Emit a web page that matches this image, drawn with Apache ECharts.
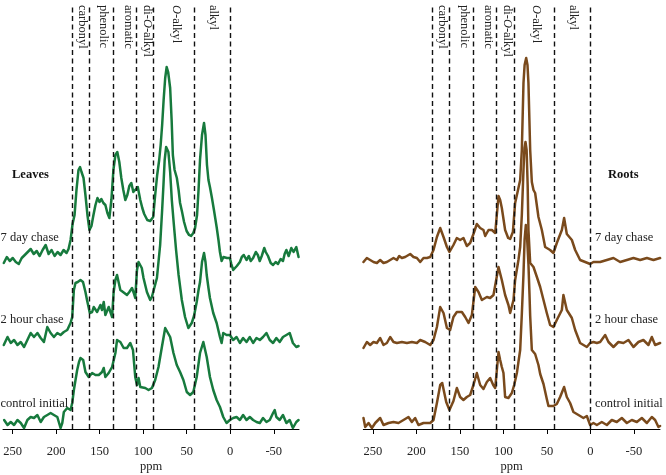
<!DOCTYPE html>
<html><head><meta charset="utf-8">
<script src="https://cdn.jsdelivr.net/npm/echarts@6/dist/echarts.min.js"></script>
<style>html,body{margin:0;padding:0;background:#fff}#c{width:666px;height:475px}</style>
</head><body><div id="c"></div>
<script>
// ---- data (ppm, relative intensity) ----
const ppmTicks = [250, 200, 150, 100, 50, 0, -50];
const regionBounds = [182, 162, 134.5, 108, 88, 41, 0];
const regionNames = ['carbonyl', 'phenolic', 'aromatic', 'di-O-alkyl', 'O-alkyl', 'alkyl'];
const regionLabelPpm = [170, 145.5, 117.5, 95, 62.5, 20];
const spectrumNames = ['control initial', '2 hour chase', '7 day chase'];
const leafOffsets = [6, 87, 169];
const rootOffsets = [5, 86, 169];

const leafControl = [[259.7,3],[255.8,-2],[252.1,1],[248.3,-2],[244.4,3],[240.6,0],[236.8,-5],[233,3],[229.2,6],[225.4,5],[221.5,8],[217.7,1],[214,6],[210.1,8],[206.3,10],[202.5,8],[198.6,6],[194.9,-5],[192.9,0],[191.1,11],[187.2,15],[183.4,13],[181.5,20],[179.6,33],[175.8,53],[173.7,61],[172,65],[168.9,63],[166.3,51],[162.5,46],[158.6,50],[154.8,48],[151,48],[147.2,51],[145.3,55],[143.4,46],[139.6,50],[135.7,56],[131.9,70],[130,83],[126.2,81],[122.4,75],[118.6,75],[114.8,80],[111.7,73],[109.1,46],[107.1,38],[105.3,45],[103.3,36],[97.6,35],[93.8,33],[89.9,35],[86.2,43],[82.4,56],[78.5,76],[74.7,95],[72.8,96],[69,86],[65.2,70],[61.4,58],[57.6,51],[53.8,43],[49.9,31],[46.1,28],[42.4,31],[38.5,46],[34.7,70],[30.9,81],[27,66],[23.3,46],[19.5,33],[15.6,23],[11.8,16],[8,6],[4.2,0],[0.4,3],[-3.4,5],[-7.3,6],[-11.1,3],[-14.8,8],[-18.7,3],[-22.5,6],[-26.3,3],[-30.2,1],[-34,0],[-37.7,5],[-41.6,1],[-45.4,3],[-49.2,10],[-51.1,13],[-53,6],[-56.8,3],[-60.6,8],[-64.5,0],[-68.3,3],[-72,-5],[-75.9,1],[-78.5,3]];
const leaf2h = [[260.1,-3],[255.8,5],[252.1,-1],[248.3,2],[244.4,-3],[240.6,0],[236.8,-5],[233,2],[229.2,9],[225.4,5],[221.5,9],[217.7,4],[214,0],[210.1,15],[206.3,9],[202.5,5],[198.6,9],[194.9,7],[191.1,10],[187.2,12],[183.4,19],[181.5,25],[179.6,52],[177.7,59],[175.1,60],[172,62],[169.1,60],[166.3,50],[164.5,42],[162.5,34],[161.3,29],[158.6,30],[156.8,35],[152.9,30],[149.1,37],[147.2,32],[145.3,40],[143.4,27],[139.6,35],[135.7,25],[133.9,50],[131.9,62],[130,67],[128.2,66],[126.2,52],[124.3,50],[121.6,49],[118.6,47],[115.9,50],[112.8,54],[110.8,49],[109.1,44],[107.1,72],[105.3,80],[103.3,81],[101.6,74],[99.6,64],[95.7,50],[91.9,42],[90,45],[88.1,45],[84.2,64],[80.5,97],[78.2,132],[76.7,157],[75.3,182],[73.6,195],[72.1,195],[71,190],[69,170],[67.1,142],[65,120],[62.2,92],[59.3,67],[55.6,42],[51.9,25],[48.1,14],[44.2,19],[41.6,26],[38.5,40],[36.4,52],[34.7,60],[32.4,80],[30.1,89],[28.4,80],[27,67],[25,54],[23.3,44],[19.5,29],[15.6,19],[11.8,5],[9.9,-1],[8,9],[4.2,7],[0.4,7],[-3.4,2],[-7.3,5],[-11.1,-1],[-14.8,4],[-18.7,0],[-22.5,5],[-26.3,-1],[-30.2,4],[-34,2],[-37.7,5],[-41.6,9],[-45.4,2],[-49.2,-1],[-53,4],[-56.8,0],[-60.6,5],[-64.5,7],[-68.3,9],[-72,-1],[-75.9,-5],[-78.5,-4]];
const leaf7d = [[260.1,-3],[256.6,3],[253.2,-1],[249.8,2],[246.3,-2],[242.9,-4],[239.5,2],[236,5],[232.6,8],[229.2,11],[225.7,6],[222.3,9],[218.9,4],[215.5,10],[212,15],[208.6,6],[205.2,10],[201.7,4],[198.3,8],[194.9,5],[191.4,10],[188,7],[185.7,11],[183.4,20],[181.1,36],[178.8,45],[176.6,70],[174.3,90],[172.5,93],[170.8,88],[168.5,82],[166.3,65],[164,45],[161.7,30],[159.4,34],[157.1,45],[154.8,55],[152.5,62],[150.2,58],[148,61],[145.7,57],[143.4,55],[141.1,47],[138.8,42],[136.5,60],[134.2,90],[131.9,105],[129.7,108],[127.4,98],[125.1,82],[122.8,70],[120.5,60],[118.2,65],[115.9,74],[113.6,77],[111.3,68],[109.1,70],[106.2,73],[103.3,60],[101,52],[98.8,46],[95.3,40],[91.9,39],[88.5,43],[86.2,65],[83.9,85],[81.6,100],[79.9,115],[78.2,135],[76.5,160],[74.7,182],[73,193],[71.3,188],[69,172],[67.3,140],[65.9,105],[63.9,90],[61.3,82],[59.3,70],[57.6,57],[55.3,48],[53,38],[50.1,29],[47.3,25],[45,24],[42.4,27],[40.4,32],[38.1,45],[36.4,70],[34.7,100],[32.4,125],[30.1,137],[28.4,125],[26.7,95],[25,80],[23.3,73],[21,62],[18.7,50],[15.6,33],[13.5,20],[11.8,8],[9.9,-1],[7.8,3],[6.1,4],[3.8,2],[0.4,2],[-1.3,-4],[-3.4,-10],[-5.3,-8],[-7.6,-6],[-11.1,-2],[-13.3,3],[-15.6,5],[-18.7,0],[-21.4,4],[-23.6,-1],[-26.3,2],[-29.4,8],[-31.7,5],[-33.9,-1],[-36.2,4],[-39.1,12],[-40.8,8],[-43.4,4],[-46.5,-3],[-49.2,-5],[-52.2,-2],[-54.9,-4],[-57.9,1],[-60.6,-1],[-62.5,6],[-64.5,10],[-67.1,4],[-70.2,12],[-72.8,8],[-75.9,13],[-78.5,3]];

const rootControl = [[260.8,6],[258.8,-3],[255,1],[251.1,-4],[247.3,1],[241.6,6],[237.8,-1],[232,1],[226.3,2],[220.6,1],[214.8,4],[209.1,7],[205.2,2],[201.4,6],[197.6,-1],[191.8,1],[184.1,1],[180.3,4],[176.4,21],[172.6,39],[170.3,41],[165.7,22],[162,14],[157.4,23],[153.5,36],[149.7,27],[145.9,24],[142,27],[138.2,29],[134.4,39],[130.5,51],[126.7,39],[122.9,35],[119,42],[115.2,46],[111.7,39],[109.4,36],[105.6,72],[103.7,64],[101.8,57],[99.9,51],[98,27],[94.2,26],[90.3,31],[87.6,39],[84.5,51],[82.7,62],[80.7,74],[78.8,110],[76.9,150],[75.6,185],[74.2,199],[72.7,185],[71.2,160],[70,130],[69.2,108],[67.3,74],[65.4,72],[63.5,70],[59.7,59],[57.7,50],[53.9,40],[52,38],[50.1,25],[48.2,18],[46.3,17],[42.5,18],[38.6,20],[34.8,27],[30.2,37],[27.1,27],[23.3,21],[19.5,12],[13.7,9],[8,6],[4.1,8],[0.3,-1],[-3.5,1],[-7.4,-1],[-13.1,2],[-18.9,-1],[-24.6,4],[-30.3,2],[-36.1,6],[-41.9,1],[-47.6,4],[-53.4,2],[-59.1,6],[-64.9,1],[-70.6,7],[-74.4,4],[-78.2,-3],[-80.1,-2]];
const root2h = [[260.8,-5],[256.9,1],[253.1,-2],[249.3,1],[245.4,0],[241.6,5],[237.8,-2],[233.9,0],[230.1,6],[226.3,1],[222.4,0],[216.7,1],[210.9,0],[205.2,1],[199.4,0],[195.6,3],[189.9,1],[184.1,-2],[180.3,3],[176.4,16],[172.6,36],[168.8,30],[164.9,15],[161.2,13],[157.4,26],[153.5,31],[147.7,31],[143.9,26],[140.1,20],[136.2,28],[132.4,56],[128.6,51],[124.7,43],[119,46],[115.2,45],[111.4,48],[105.6,76],[101.8,63],[98,48],[94.2,38],[92.2,30],[88.4,43],[86.5,63],[82.7,83],[80.7,96],[78.8,128],[76.9,173],[75.8,195],[74.6,201],[73.3,193],[72.1,158],[71.2,113],[69.2,80],[65.4,76],[61.5,66],[57.7,56],[53.9,43],[50.1,30],[46.3,18],[42.5,16],[38.6,23],[32.8,33],[31,48],[27.1,33],[21.3,25],[17.5,13],[11.8,0],[4.1,-4],[0.3,0],[-3.5,1],[-7.4,0],[-11.2,1],[-17,8],[-20.8,1],[-26.5,-4],[-32.2,1],[-38,0],[-43.7,3],[-49.5,-4],[-55.2,1],[-60.9,3],[-66.7,-2],[-70.6,6],[-74.4,-2],[-80.1,0]];
const root7d = [[260.8,-2],[256.9,2],[253.1,0],[249.3,-2],[245.4,-3],[241.6,0],[237.8,-3],[233.9,-2],[230.1,0],[226.3,2],[222.4,0],[219.7,4],[216.7,2],[212.9,3],[207.1,6],[203.3,3],[199.4,2],[195.6,-2],[191.8,2],[187.9,2],[184.1,3],[180.3,10],[176.4,23],[172.6,32],[168.8,23],[164.9,13],[162,8],[157.4,15],[153.5,22],[149.7,20],[145.9,22],[142,14],[138.2,17],[134.4,26],[130.5,36],[126.7,32],[122.9,30],[120.9,24],[117.1,30],[113.2,30],[109.4,27],[105.6,64],[103.7,60],[101.8,52],[98,30],[94.5,22],[92.2,21],[89.1,28],[86.5,57],[82.7,72],[80.7,80],[78.8,110],[76.9,177],[75.6,195],[73.8,202],[72.3,195],[71.2,177],[69.2,110],[67.3,78],[65.4,70],[63.5,67],[59.7,43],[55.8,30],[52,13],[46.3,10],[42.5,7],[38.6,17],[32.8,30],[30.2,42],[27.1,26],[21.3,20],[17.5,10],[11.8,0],[6,-2],[0.3,-4],[-3.5,-2],[-11.2,-2],[-18.9,0],[-26.5,2],[-34.2,-2],[-41.9,0],[-49.5,2],[-57.2,0],[-64.9,2],[-72.5,0],[-80.1,2]];

const leafColor = '#177a3d';
const rootColor = '#7a4a1c';
const FONT = '"Liberation Serif", "Times New Roman", serif';

const chart = echarts.init(document.getElementById('c'), null, {renderer: 'canvas'});

function xAx(gi, min) {
  return {
    type: 'value', gridIndex: gi, min: min, max: 261, inverse: true,
    name: 'ppm', nameLocation: 'middle', nameGap: 31.5, nameMoveOverlap: false,
    nameTextStyle: {fontFamily: FONT, fontSize: 12.5, color: '#222'},
    axisLine: {show: true, onZero: false, lineStyle: {color: '#000', width: 1}},
    axisTick: {show: true, length: 5, inside: false, customValues: ppmTicks, lineStyle: {color: '#000'}},
    axisLabel: {show: true, customValues: ppmTicks, margin: 16, fontFamily: FONT, fontSize: 12.5, color: '#222'},
    splitLine: {show: false}
  };
}
function yAx(gi) {
  return {type: 'value', gridIndex: gi, min: 0, max: 424, show: false};
}
function spec(gi, pts, off, color, name) {
  return {
    type: 'line', name: name, xAxisIndex: gi, yAxisIndex: gi, showSymbol: false, symbol: 'none',
    data: pts.map(p => [p[0], p[1] + off]), z: 2, silent: true,
    lineStyle: {color: color, width: 2.5, join: 'round', cap: 'round'}
  };
}
function bounds(gi) {
  return {
    type: 'line', xAxisIndex: gi, yAxisIndex: gi, data: [], z: 5, silent: true,
    markLine: {
      symbol: 'none', silent: true, animation: false,
      label: {show: false},
      lineStyle: {color: '#111', width: 1.4, type: [5, 3.5]},
      data: regionBounds.map(v => ({xAxis: v}))
    }
  };
}

const leafSets = [leafControl, leaf2h, leaf7d];
const rootSets = [rootControl, root2h, root7d];
const series = [];
leafSets.forEach((s, i) => series.push(spec(0, s, leafOffsets[i], leafColor, 'Leaves ' + spectrumNames[i])));
rootSets.forEach((s, i) => series.push(spec(1, s, rootOffsets[i], rootColor, 'Roots ' + spectrumNames[i])));
series.push(bounds(0), bounds(1));

chart.setOption({
  animation: false,
  backgroundColor: '#fff',
  grid: [
    {left: 3, top: 5, width: 296, height: 424, containLabel: false, outerBoundsMode: 'none'},
    {left: 363.3, top: 5, width: 296.7, height: 424, containLabel: false, outerBoundsMode: 'none'}
  ],
  xAxis: [xAx(0, -79), xAx(1, -80)],
  yAxis: [yAx(0), yAx(1)],
  series: series
});

// text annotations
const g = [];
function txt(x, y, text, opts) {
  g.push({
    type: 'text', x: x, y: y, silent: true,
    style: Object.assign({text: text, fontFamily: FONT, fontSize: 12.5, fill: '#222',
      align: 'left', verticalAlign: 'middle', textAlign: 'left', textVerticalAlign: 'middle'}, opts || {})
  });
}
const curveLabelY = [404, 320, 238];
spectrumNames.forEach((n, i) => { txt(0.5, curveLabelY[i], n); txt(595, curveLabelY[i], n); });
txt(12, 175, 'Leaves', {fontWeight: 'bold', fill: '#111'});
txt(608, 175, 'Roots', {fontWeight: 'bold', fill: '#111'});

const rich = {
  n: {fontFamily: FONT, fontSize: 12.5, fill: '#222'},
  i: {fontFamily: FONT, fontSize: 12.5, fontStyle: 'italic', fill: '#222'}
};
[0, 1].forEach(ax => {
  regionNames.forEach((name, k) => {
    const px = chart.convertToPixel({xAxisIndex: ax}, regionLabelPpm[k]);
    let richText;
    if (name.indexOf('O-') >= 0) {
      richText = name.startsWith('O-') ? '{i|O}{n|-alkyl}' : '{n|di-}{i|O}{n|-alkyl}';
    } else {
      richText = '{n|' + name + '}';
    }
    g.push({
      type: 'text', x: px, y: 5, rotation: -Math.PI / 2, silent: true,
      style: {text: richText, rich: rich, fontFamily: FONT, fontSize: 12.5, fill: '#222',
        align: 'left', verticalAlign: 'middle', textAlign: 'left', textVerticalAlign: 'middle'}
    });
  });
});
chart.setOption({graphic: g});
</script>
</body></html>
